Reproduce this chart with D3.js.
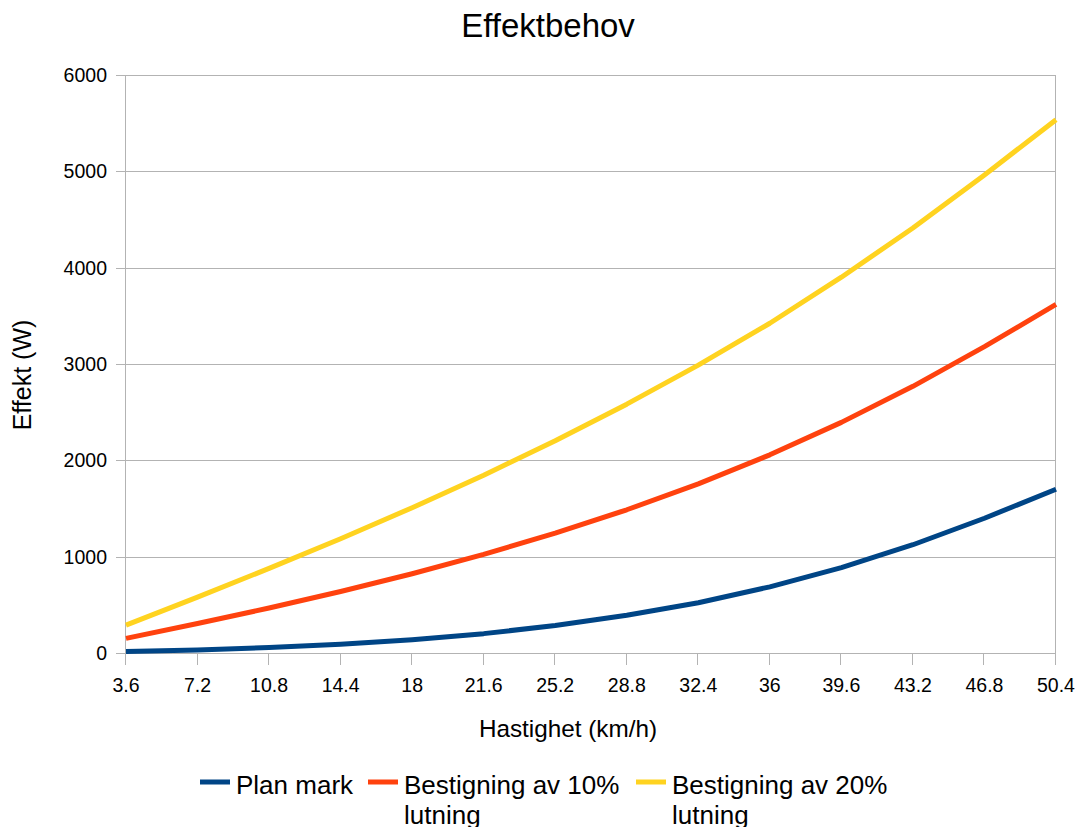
<!DOCTYPE html>
<html>
<head>
<meta charset="utf-8">
<script src="https://cdn.jsdelivr.net/npm/d3@7"></script>
<style>
  body { margin: 0; background: #fff; }
  svg text { font-family: "Liberation Sans", Arial, sans-serif; fill: #000; }
</style>
</head>
<body>
<div id="chart"></div>
<script>
// data
const speeds = ["3.6", "7.2", "10.8", "14.4", "18", "21.6", "25.2", "28.8", "32.4", "36", "39.6", "43.2", "46.8", "50.4"];
const planMark = [15, 32, 56, 90, 138, 201, 285, 391, 522, 687, 887, 1124, 1399, 1700];
const lutning10 = [152, 306, 467, 638, 823, 1023, 1244, 1487, 1755, 2057, 2394, 2768, 3180, 3618];
const lutning20 = [289, 580, 878, 1186, 1508, 1845, 2203, 2583, 2988, 3423, 3901, 4412, 4963, 5536];
const yTicks = [0, 1000, 2000, 3000, 4000, 5000, 6000];
const seriesNames = ["Plan mark", "Bestigning av 10%|lutning", "Bestigning av 20%|lutning"];
const seriesColors = ["#004586", "#ff420e", "#ffd320"];

const width = 1081, height = 827;
const margin = { top: 75, right: 25, bottom: 174, left: 126 };

const svg = d3.select("#chart")
  .append("svg")
  .attr("width", width)
  .attr("height", height);

const x = d3.scalePoint()
  .domain(speeds)
  .range([margin.left, width - margin.right]);

const y = d3.scaleLinear()
  .domain([0, 6000])
  .range([height - margin.bottom, margin.top]);

const grid = "#b3b3b3";

// horizontal grid
svg.append("g")
  .selectAll("line")
  .data(yTicks)
  .join("line")
  .attr("x1", margin.left - 10)
  .attr("x2", width - margin.right)
  .attr("y1", d => Math.round(y(d)) + 0.5)
  .attr("y2", d => Math.round(y(d)) + 0.5)
  .attr("stroke", grid);

// left and right frame lines
svg.append("g")
  .selectAll("line")
  .data([margin.left, width - margin.right])
  .join("line")
  .attr("x1", d => Math.round(d) - 0.5)
  .attr("x2", d => Math.round(d) - 0.5)
  .attr("y1", margin.top)
  .attr("y2", height - margin.bottom)
  .attr("stroke", grid);

// x ticks below axis
svg.append("g")
  .selectAll("line")
  .data(speeds)
  .join("line")
  .attr("x1", d => Math.round(x(d)) - 0.5)
  .attr("x2", d => Math.round(x(d)) - 0.5)
  .attr("y1", height - margin.bottom)
  .attr("y2", height - margin.bottom + 12)
  .attr("stroke", grid);

// y tick labels
svg.append("g")
  .selectAll("text")
  .data(yTicks)
  .join("text")
  .attr("x", margin.left - 19)
  .attr("y", d => y(d))
  .attr("dy", "0.36em")
  .attr("text-anchor", "end")
  .style("font-size", "19.5px")
  .text(d => d);

// x tick labels
svg.append("g")
  .selectAll("text")
  .data(speeds)
  .join("text")
  .attr("x", d => x(d))
  .attr("y", 692)
  .attr("text-anchor", "middle")
  .style("font-size", "19.5px")
  .text(d => d);

// lines
const allSeries = [planMark, lutning10, lutning20];
const line = d3.line()
  .x((d, i) => x(speeds[i]))
  .y(d => y(d));

svg.append("g")
  .selectAll("path")
  .data(allSeries)
  .join("path")
  .attr("d", d => line(d))
  .attr("fill", "none")
  .attr("stroke", (d, i) => seriesColors[i])
  .attr("stroke-width", 5)
  .attr("stroke-linejoin", "round");

// titles
svg.append("text")
  .attr("x", 548)
  .attr("y", 37)
  .attr("text-anchor", "middle")
  .style("font-size", "33px")
  .text("Effektbehov");

svg.append("text")
  .attr("x", 568)
  .attr("y", 737)
  .attr("text-anchor", "middle")
  .style("font-size", "24.3px")
  .text("Hastighet (km/h)");

svg.append("text")
  .attr("transform", "translate(31,375) rotate(-90)")
  .attr("text-anchor", "middle")
  .style("font-size", "25px")
  .text("Effekt (W)");

// legend
const legendX = [200, 368, 636];
const legend = svg.append("g")
  .selectAll("g")
  .data(seriesNames)
  .join("g")
  .attr("transform", (d, i) => `translate(${legendX[i]},782)`);

legend.append("rect")
  .attr("x", 0)
  .attr("y", -2.5)
  .attr("width", 30)
  .attr("height", 5)
  .attr("fill", (d, i) => seriesColors[i]);

legend.append("text")
  .attr("x", 36)
  .attr("y", 12)
  .style("font-size", "26px")
  .selectAll("tspan")
  .data(d => d.split("|"))
  .join("tspan")
  .attr("x", 36)
  .attr("dy", (d, i) => i === 0 ? 0 : 30)
  .text(d => d);
</script>
</body>
</html>
